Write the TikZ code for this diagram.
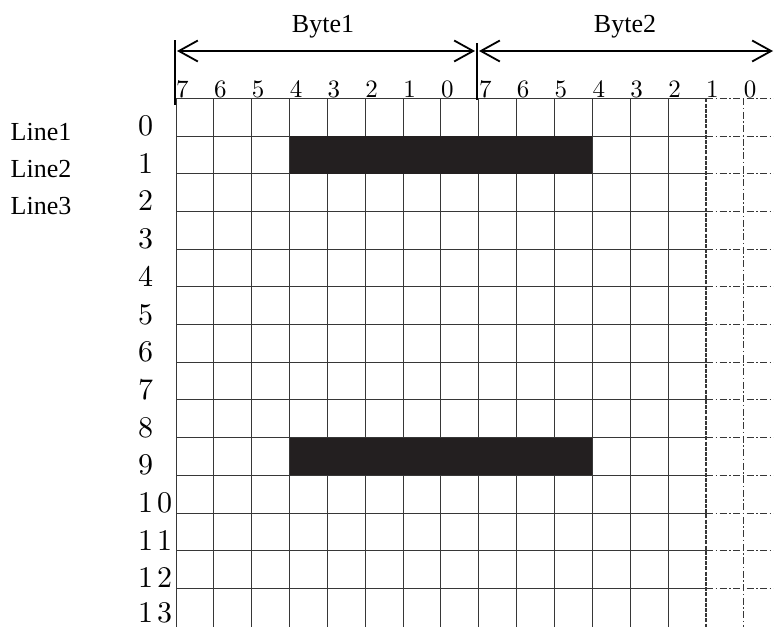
\documentclass[tikz,border=0pt]{standalone}
\usepackage{fontspec}
\newfontfamily\timesf{Liberation Serif}
\newfontfamily\lmten{lmroman10-regular.otf}
\usetikzlibrary{arrows.meta}
\definecolor{barfill}{RGB}{35,31,32}
\definecolor{gridc}{RGB}{55,55,55}
\begin{document}
\begin{tikzpicture}[x=1pt,y=-1pt,
  gridline/.style={draw=gridc,line width=1pt},
  dashline/.style={draw=gridc,line width=1pt,dash pattern=on 7pt off 2.5pt on 1.5pt off 2.5pt},
  densedash/.style={draw=gridc,line width=1.1pt,dash pattern=on 4pt off 1.2pt},
  barb/.tip={Straight Barb[length=19pt,width=21pt,line width=1.8pt]},
  bytearrow/.style={line width=1.8pt,barb-barb},
  marker/.style={line width=2pt},
  bytelabel/.style={font=\timesf\fontsize{26}{30}\selectfont,inner sep=0pt,anchor=base},
  linelabel/.style={font=\timesf\fontsize{26}{30}\selectfont,inner sep=0pt,anchor=base west},
  bitnum/.style={font=\lmten\fontsize{25}{30}\selectfont,inner sep=0pt,anchor=base west},
  rownum/.style={font=\lmten\fontsize{30}{34}\selectfont,inner sep=0pt,anchor=base west}
]
\useasboundingbox (0,0) rectangle (774,627);
% grid
\foreach \r in {0,...,13}{
  \draw[gridline] (176,{98.3+\r*37.7}) -- (706,{98.3+\r*37.7});
  \draw[dashline] (706,{98.3+\r*37.7}) -- (774,{98.3+\r*37.7});
}
\foreach \c in {0,...,13}{
  \draw[gridline] ({176+\c*37.85},98.3) -- ({176+\c*37.85},627);
}
\draw[densedash] (706,98.3) -- (706,627);
\draw[dashline] (743.8,98.3) -- (743.8,627);
% bars
\fill[barfill] (289.6,136) rectangle (592.4,173.7);
\fill[barfill] (289.6,437.6) rectangle (592.4,475.3);
% byte markers and arrows
\coordinate (m1t) at (175,40);
\coordinate (m1b) at (175,105);
\coordinate (m2t) at (477,43);
\coordinate (m2b) at (477,100);
\draw[marker] (m1t) -- (m1b);
\draw[marker] (m2t) -- (m2b);
\coordinate (b1l) at (177,51);
\coordinate (b1r) at (475,51);
\coordinate (b2l) at (479,51);
\coordinate (b2r) at (773,51);
\draw[bytearrow] (b1l) -- (b1r);
\draw[bytearrow] (b2l) -- (b2r);
\node[bytelabel] (byte1) at (323,32) {Byte1};
\node[bytelabel] (byte2) at (625,32) {Byte2};
% bit numbers
\foreach \c in {0,...,15}{
  \pgfmathtruncatemacro{\b}{7-mod(\c,8)}
  \node[bitnum] (bit\c) at ({176+\c*37.85},97) {\b};
}
% row numbers
\foreach \r in {0,...,9}{
  \node[rownum] (row\r) at (138,{98.3+(\r+1)*37.7-0.5}) {\r};
}
\node[rownum] (row10) at (138,{98.3+11*37.7-0.5}) {1\hspace{4pt}0};
\node[rownum] (row11) at (138,{98.3+12*37.7-0.5}) {1\hspace{4pt}1};
\node[rownum] (row12) at (138,{98.3+13*37.7-0.5}) {1\hspace{4pt}2};
\node[rownum] (row13) at (138,622.5) {1\hspace{4pt}3};
% line labels
\node[linelabel] (line1) at (10.5,140) {Line1};
\node[linelabel] (line2) at (10.5,177) {Line2};
\node[linelabel] (line3) at (10.5,214) {Line3};
\end{tikzpicture}
\end{document}
